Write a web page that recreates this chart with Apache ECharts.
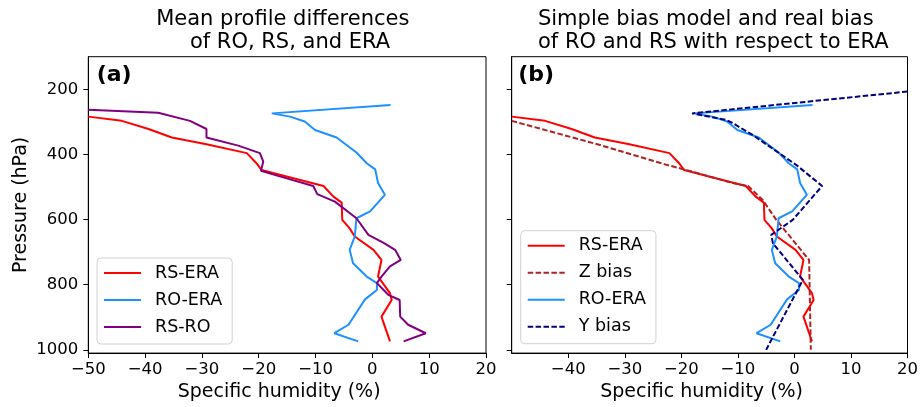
<!DOCTYPE html>
<html>
<head>
<meta charset="utf-8">
<script src="https://cdn.jsdelivr.net/npm/echarts@6/dist/echarts.min.js"></script>
<style>
  html, body { margin: 0; padding: 0; background: #fff; }
  #chart { width: 921px; height: 407px; }
</style>
</head>
<body>
<div id="chart"></div>
<script>
// [specific humidity difference (%), pressure (hPa)]
const rsEra = [[-50, 284], [-44.1, 297], [-39.4, 322], [-35.3, 348], [-29.2, 369], [-22.1, 396], [-20.4, 427],
  [-19.5, 448], [-15.1, 468], [-8.6, 497], [-6.9, 529], [-5.4, 548], [-5.3, 601], [-4.0, 627], [-3.1, 652],
  [0.2, 693], [1.6, 724], [1.0, 775], [3.1, 826], [3.4, 847], [1.6, 898], [3.1, 974]];
const roEra = [[3.2, 248], [-17.7, 274], [-14.5, 284], [-11.9, 299], [-10.1, 325], [-6.3, 348], [-2.8, 394],
  [-1.0, 427], [0.5, 446], [1.0, 488], [2.2, 524], [-0.4, 575], [-2.8, 596], [-3.1, 652], [-4.0, 693],
  [-3.4, 734], [-1.0, 775], [0.8, 795], [0.8, 816], [-1.3, 845], [-4.2, 923], [-6.7, 949], [-2.5, 974]];
const rsRo = [[-50, 263], [-37.7, 272], [-32.1, 297], [-29.2, 322], [-29.2, 348], [-23.6, 373], [-19.8, 396],
  [-19.2, 422], [-19.6, 450], [-16.6, 466], [-10.4, 497], [-9.7, 522], [-6.6, 545], [-2.8, 596], [-0.7, 647],
  [1.9, 671], [4.0, 693], [5.0, 724], [3.1, 744], [1.6, 775], [0.8, 795], [2.8, 831], [4.8, 847], [4.9, 898],
  [6.3, 923], [9.4, 949], [5.5, 974]];
const zBias = [[-50, 297], [-34.4, 371], [-22.6, 432], [-19.1, 448], [-10.9, 488], [-8.2, 497], [-5.6, 540],
  [-3.2, 601], [2.6, 724], [2.9, 1000]];
const yBias = [[20, 207], [-18.1, 274], [-12.1, 294], [-10.9, 304], [-7.4, 340], [0.3, 432], [4.9, 497],
  [-0.3, 601], [-4.1, 647], [-3.8, 673], [1.5, 785], [-5.0, 1000]];
const pressureTicks = [200, 400, 600, 800, 1000];
const legendA = ['RS-ERA', 'RO-ERA', 'RS-RO'];
const legendB = ['RS-ERA', 'Z bias', 'RO-ERA', 'Y bias'];

const FONT = 'DejaVu Sans';
const myChart = echarts.init(document.getElementById('chart'));

function minus(v) {
  return v < 0 ? '\u2212' + Math.abs(v) : String(v);
}

function xAxis(idx, showMin) {
  return {
    gridIndex: idx,
    type: 'value',
    min: -50,
    max: 20,
    interval: 10,
    name: 'Specific humidity (%)',
    nameLocation: 'middle',
    nameGap: 26,
    nameTextStyle: { fontFamily: FONT, fontSize: 19, color: '#000', padding: [0, 16, 0, 0] },
    axisLine: { show: true, onZero: false, lineStyle: { color: '#000', width: 1 } },
    axisTick: { show: true, length: 5, lineStyle: { color: '#000' } },
    axisLabel: { showMinLabel: showMin, margin: 8, fontFamily: FONT, fontSize: 16.5, color: '#000', formatter: minus },
    splitLine: { show: false }
  };
}

function yAxis(idx, showLabels) {
  return {
    gridIndex: idx,
    type: 'value',
    inverse: true,
    min: 100,
    max: 1010,
    name: showLabels ? 'Pressure (hPa)' : '',
    nameLocation: 'middle',
    nameGap: 58,
    nameTextStyle: { fontFamily: FONT, fontSize: 19, color: '#000' },
    axisLine: { show: true, onZero: false, lineStyle: { color: '#000', width: 1 } },
    axisTick: { show: true, length: 5, customValues: pressureTicks, lineStyle: { color: '#000' } },
    axisLabel: {
      show: showLabels, customValues: pressureTicks, margin: 10,
      fontFamily: FONT, fontSize: 16.5, color: '#000', formatter: v => String(v)
    },
    splitLine: { show: false }
  };
}

function line(name, data, idx, color, dashed) {
  return {
    name: name,
    type: 'line',
    xAxisIndex: idx,
    yAxisIndex: idx,
    data: data,
    symbol: 'none',
    lineStyle: { color: color, width: 2, type: dashed ? [5.5, 2.4] : 'solid' },
    itemStyle: { color: color }
  };
}

function legend(data, left, top) {
  return {
    data: data,
    orient: 'vertical',
    left: left,
    top: top,
    itemWidth: 37,
    itemHeight: 14,
    itemGap: 9,
    padding: [6, 10, 8, 6],
    backgroundColor: 'rgba(255,255,255,0.8)',
    borderColor: '#d0d0d0',
    borderWidth: 1,
    borderRadius: 4,
    itemStyle: { opacity: 0 },
    textStyle: { fontFamily: FONT, fontSize: 17.5, color: '#000', lineHeight: 18, padding: [0, 0, 0, 9] }
  };
}

function text(str, x, y, size, bold, align) {
  return {
    type: 'text',
    x: x,
    y: y,
    style: {
      text: str,
      fill: '#000',
      font: (bold ? 'bold ' : '') + size + 'px "' + FONT + '"',
      align: align || 'center',
      verticalAlign: 'middle'
    }
  };
}

const option = {
  animation: false,
  grid: [
    { left: 88.3, top: 56.7, width: 397.7, height: 296.8, show: true, borderColor: '#000', borderWidth: 1 },
    { left: 511.7, top: 56.7, width: 397.3, height: 296.8, show: true, borderColor: '#000', borderWidth: 1 }
  ],
  xAxis: [xAxis(0, true), xAxis(1, false)],
  yAxis: [yAxis(0, true), yAxis(1, false)],
  legend: [legend(legendA, 97, 258), legend(legendB, 520.7, 230.7)],
  graphic: [
    text('Mean profile differences', 282.8, 20, 21),
    text('of RO, RS, and ERA', 290, 43, 21),
    text('Simple bias model and real bias', 705.8, 20, 21),
    text('of RO and RS with respect to ERA', 713.3, 43, 21),
    text('(a)', 96.7, 75, 22, true, 'left'),
    text('(b)', 518.3, 75, 22, true, 'left')
  ],
  series: [
    line('RS-ERA', rsEra, 0, '#ff0000'),
    line('RO-ERA', roEra, 0, '#1e90ff'),
    line('RS-RO', rsRo, 0, '#800080'),
    line('RS-ERA', rsEra, 1, '#ff0000'),
    line('Z bias', zBias, 1, '#b22222', true),
    line('RO-ERA', roEra, 1, '#1e90ff'),
    line('Y bias', yBias, 1, '#000080', true)
  ]
};

myChart.setOption(option);
</script>
</body>
</html>
